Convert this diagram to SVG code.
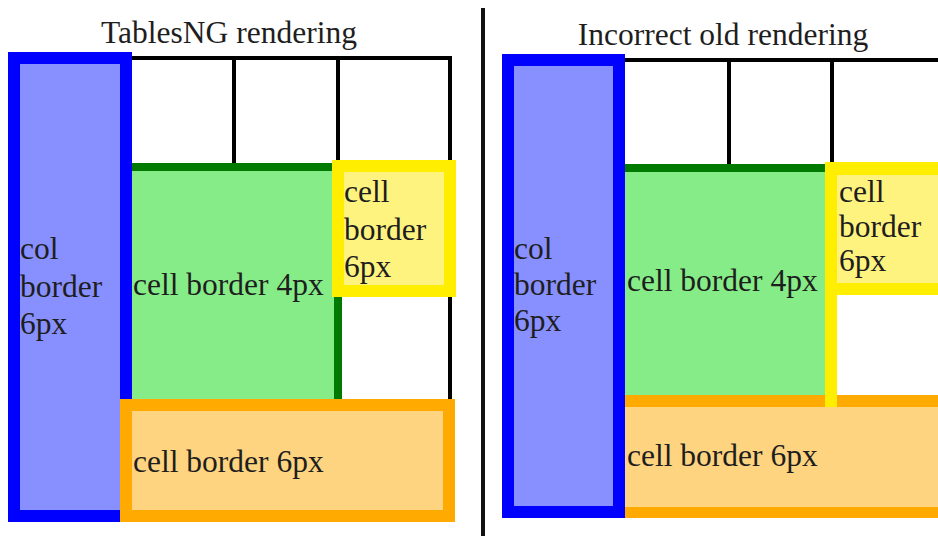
<svg xmlns="http://www.w3.org/2000/svg" width="938" height="536" viewBox="0 0 938 536">
<style>
text{font-family:"Liberation Serif","Times New Roman",serif;font-size:31.5px;fill:#1e1e1e}
.grid{stroke:#000;stroke-width:4;fill:none}
.blue{fill:#8890ff;stroke:#0000ff;stroke-width:12}
.yellow{fill:#fff380;stroke:#ffee00;stroke-width:12}
.orange{fill:#ffd480;stroke:#ffaa00;stroke-width:12}
.gfill{fill:#86ec88}
.gline{fill:#007a00}
</style>
<rect width="938" height="536" fill="#fff"/>
<g id="divider"><rect x="481" y="8" width="4" height="528" fill="#111"/></g>

<!-- LEFT PANEL -->
<g id="left-title"><text x="229" y="43" text-anchor="middle">TablesNG rendering</text></g>
<g id="left-grid" class="grid">
  <line x1="132" y1="58" x2="452" y2="58"/>
  <line x1="234" y1="58" x2="234" y2="164"/>
  <line x1="338" y1="58" x2="338" y2="162"/>
  <line x1="450" y1="56" x2="450" y2="400"/>
</g>
<g id="left-green">
  <rect class="gfill" x="132" y="163" width="206" height="237"/>
  <rect class="gline" x="132" y="163" width="202" height="8"/>
  <rect class="gline" x="334" y="290" width="8" height="110"/>
  <text x="133" y="295">cell border 4px</text>
</g>
<g id="left-yellow">
  <rect class="yellow" x="338" y="166" width="112" height="125"/>
  <text x="344" y="202">cell</text>
  <text x="344" y="239.5">border</text>
  <text x="344" y="277">6px</text>
</g>
<g id="left-blue">
  <rect class="blue" x="14" y="58" width="112" height="458"/>
  <text x="20" y="259">col</text>
  <text x="20" y="297">border</text>
  <text x="20" y="334">6px</text>
</g>
<g id="left-orange">
  <rect class="orange" x="126" y="405" width="323" height="111"/>
  <text x="133" y="472">cell border 6px</text>
</g>

<!-- RIGHT PANEL -->
<g id="right-title"><text x="723" y="45" text-anchor="middle">Incorrect old rendering</text></g>
<g id="right-grid" class="grid">
  <line x1="625" y1="60" x2="938" y2="60"/>
  <line x1="729" y1="60" x2="729" y2="166"/>
  <line x1="832" y1="60" x2="832" y2="164"/>
</g>
<g id="right-green">
  <rect class="gfill" x="625" y="164" width="201" height="231"/>
  <rect class="gline" x="625" y="164" width="200" height="8"/>
  <text x="627" y="291">cell border 4px</text>
</g>
<g id="right-white"><rect x="837" y="295" width="101" height="100" fill="#fff"/></g>
<g id="right-orange">
  <rect x="625" y="395" width="313" height="123" fill="#ffaa00"/>
  <rect x="625" y="407" width="313" height="100" fill="#ffd480"/>
  <text x="627" y="466">cell border 6px</text>
</g>
<g id="right-yellow">
  <rect x="825" y="162" width="113" height="133" fill="#ffee00"/>
  <rect x="825" y="295" width="12" height="112" fill="#ffee00"/>
  <rect x="837" y="175" width="101" height="108" fill="#fff380"/>
  <text x="839" y="202">cell</text>
  <text x="839" y="237">border</text>
  <text x="839" y="271">6px</text>
</g>
<g id="right-blue">
  <rect class="blue" x="508" y="60" width="111" height="452"/>
  <text x="514" y="259">col</text>
  <text x="514" y="295">border</text>
  <text x="514" y="331">6px</text>
</g>
<g id="connectors"></g>
</svg>
